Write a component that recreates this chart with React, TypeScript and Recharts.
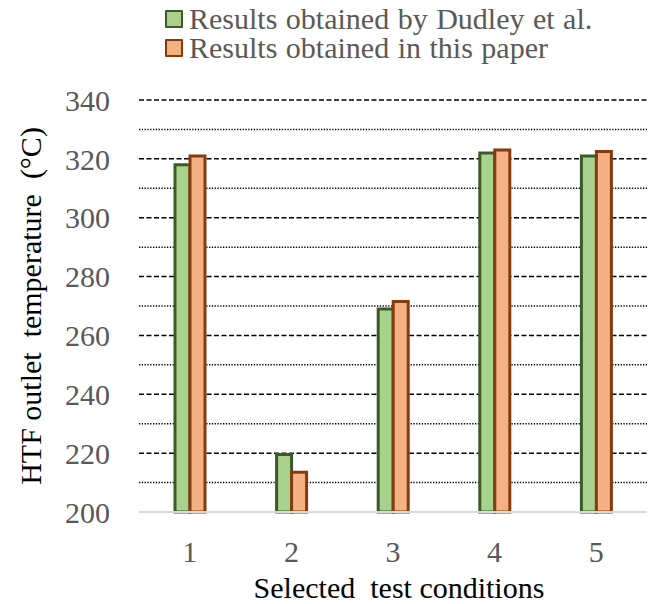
import React from 'react';
import { BarChart, Bar, XAxis, YAxis, CartesianGrid } from 'recharts';

const categories = ['1', '2', '3', '4', '5'];
const dudley = [318, 219.5, 269, 322, 321];
const paper = [321, 213.5, 271.5, 323, 322.5];
// all grid values; labelled ticks are the multiples of 20
const yGridValues = [200, 210, 220, 230, 240, 250, 260, 270, 280, 290, 300, 310, 320, 330, 340];
const yLabelStep = 20;
const seriesNames = ['Results obtained by Dudley et al.', 'Results obtained in this paper'];

const data = categories.map((c, i) => ({ cat: c, dudley: dudley[i], paper: paper[i] }));

const FONT = '"Liberation Serif", "Times New Roman", serif';
const GREEN_FILL = '#A9D18E';
const GREEN_STROKE = '#3B5A26';
const ORANGE_FILL = '#F4B183';
const ORANGE_STROKE = '#843C0C';

const GridLine = (p: any) => {
  const v = yGridValues[p.index];
  if (v === undefined || v === yGridValues[0]) return <g key={p.key} />;
  const major = v % yLabelStep === 0;
  return (
    <line
      key={p.key}
      x1={p.x1}
      y1={p.y1}
      x2={p.x2}
      y2={p.y2}
      stroke="#000"
      strokeWidth={1.5}
      strokeDasharray={major ? '5 2.5' : '1.3 1.5'}
    />
  );
};

const YTitle = (props: any) => {
  const vb = props.viewBox;
  const cx = vb.x + 30;
  const cy = vb.y + vb.height / 2;
  return (
    <text
      x={cx}
      y={cy}
      transform={`rotate(-90, ${cx}, ${cy})`}
      textAnchor="middle"
      dominantBaseline="central"
      fontFamily={FONT}
      fontSize={30}
      fill="#000"
      style={{ whiteSpace: 'pre' }}
    >
      {'HTF outlet  temperature  (°C)'}
    </text>
  );
};

const XTitle = (props: any) => {
  const vb = props.viewBox;
  return (
    <text
      x={vb.x + vb.width / 2 + 6}
      y={vb.y + 86}
      textAnchor="middle"
      fontFamily={FONT}
      fontSize={30}
      fill="#000"
      style={{ whiteSpace: 'pre' }}
    >
      {'Selected  test conditions'}
    </text>
  );
};

export default function App() {
  const legendItems = [
    { name: seriesNames[0], fill: GREEN_FILL, stroke: GREEN_STROKE },
    { name: seriesNames[1], fill: ORANGE_FILL, stroke: ORANGE_STROKE },
  ];
  return (
    <div style={{ position: 'absolute', left: 0, top: 0, width: 654, height: 604, background: '#fff' }}>
      <div style={{ position: 'absolute', left: 165, top: 4, fontFamily: FONT, fontSize: 30, color: '#595959', zIndex: 2 }}>
        {legendItems.map((it) => (
          <div key={it.name} style={{ display: 'flex', alignItems: 'center', height: 29, lineHeight: '29px', whiteSpace: 'pre' }}>
            <span
              style={{
                display: 'inline-block',
                width: 14,
                height: 14,
                background: it.fill,
                border: `2.5px solid ${it.stroke}`,
                marginRight: 6,
                borderRadius: 1,
              }}
            />
            <span style={{ wordSpacing: 1 }}>{it.name}</span>
          </div>
        ))}
      </div>
      <BarChart
        width={654}
        height={604}
        data={data}
        margin={{ top: 100, right: 7, left: 0, bottom: 0 }}
        barGap={0}
        barSize={15}
      >
        <CartesianGrid yAxisId="main" vertical={false} horizontal={GridLine} />
        <XAxis
          dataKey="cat"
          height={92}
          tickLine={false}
          tickSize={0}
          tickMargin={29}
          axisLine={{ stroke: '#D9D9D9', strokeWidth: 2 }}
          tick={{ fontFamily: FONT, fontSize: 30, fill: '#595959' }}
          label={<XTitle />}
        />
        <YAxis
          yAxisId="main"
          width={139}
          domain={[200, 340]}
          ticks={yGridValues}
          interval={0}
          tickLine={false}
          axisLine={false}
          tickSize={0}
          tickMargin={29}
          tickFormatter={(v: number) => (v % yLabelStep === 0 ? String(v) : '')}
          tick={{ fontFamily: FONT, fontSize: 30, fill: '#595959' }}
          label={<YTitle />}
        />
        <Bar
          yAxisId="main"
          dataKey="dudley"
          name={seriesNames[0]}
          fill={GREEN_FILL}
          stroke={GREEN_STROKE}
          strokeWidth={3}
          isAnimationActive={false}
        />
        <Bar
          yAxisId="main"
          dataKey="paper"
          name={seriesNames[1]}
          fill={ORANGE_FILL}
          stroke={ORANGE_STROKE}
          strokeWidth={3}
          isAnimationActive={false}
        />
      </BarChart>
    </div>
  );
}
